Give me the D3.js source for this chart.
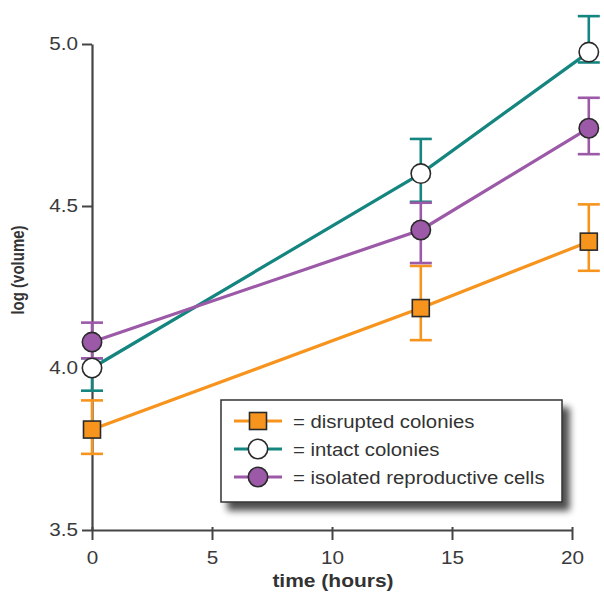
<!DOCTYPE html>
<html lang="en">
  <head>
    <meta charset="utf-8">
    <title>Colony growth</title>
    <script type="text/javascript" src="https://d3js.org/d3.v7.min.js"></script>
    <style>
      body { margin: 0; background: #fff; }
      text { font-family: "Liberation Sans", Arial, sans-serif; }
    </style>
  </head>
  <body>
    <svg class="chart"></svg>
  <script>
    // data
    const times = [0, 13.7, 20.7];
    const seriesNames = ["disrupted colonies", "intact colonies", "isolated reproductive cells"];
    const disrupted = [3.81, 4.185, 4.39];
    const disruptedLo = [3.735, 4.086, 4.30];
    const disruptedHi = [3.90, 4.315, 4.505];
    const intact = [4.00, 4.60, 4.975];
    const intactLo = [3.93, 4.513, 4.943];
    const intactHi = [4.03, 4.707, 5.086];
    const isolated = [4.08, 4.426, 4.74];
    const isolatedLo = [4.03, 4.324, 4.66];
    const isolatedHi = [4.14, 4.51, 4.834];
    const xTicks = [0, 5, 10, 15, 20];
    const yTicks = [3.5, 4.0, 4.5, 5.0];

    const width = 604, height = 595;
    const colors = ["#f7941d", "#14857f", "#9b59a8"];
    const shapes = ["square", "circle", "circle"];
    const fills = ["#f7941d", "#ffffff", "#9b59a8"];
    const sx = 1.15; // text in the figure is a little wide

    const series = [
      {vals: disrupted, lo: disruptedLo, hi: disruptedHi},
      {vals: intact, lo: intactLo, hi: intactHi},
      {vals: isolated, lo: isolatedLo, hi: isolatedHi}
    ];

    const svg = d3.select(".chart").attr("width", width).attr("height", height);

    const defs = svg.append("defs");
    const filt = defs.append("filter").attr("id", "shadow")
      .attr("x", "-10%").attr("y", "-20%").attr("width", "130%").attr("height", "160%");
    filt.append("feGaussianBlur").attr("in", "SourceAlpha").attr("stdDeviation", 3.5);
    filt.append("feOffset").attr("dx", 7).attr("dy", 8).attr("result", "ob");
    filt.append("feComponentTransfer").append("feFuncA").attr("type", "linear").attr("slope", 0.7);
    const merge = filt.append("feMerge");
    merge.append("feMergeNode");
    merge.append("feMergeNode").attr("in", "SourceGraphic");

    const x = d3.scaleLinear().domain([0, 20]).range([92, 572]);
    const y = d3.scaleLinear().domain([3.5, 5.0]).range([530, 44]);

    //axes
    const axisColor = "#444";
    const xAxis = svg.append("g")
      .attr("transform", "translate(0," + y(3.5) + ")")
      .call(d3.axisBottom(x).tickValues(xTicks).tickFormat(d3.format("d")).tickSize(10).tickPadding(11).tickSizeOuter(0));
    const yAxis = svg.append("g")
      .attr("transform", "translate(" + x(0) + ",0)")
      .call(d3.axisLeft(y).tickValues(yTicks).tickFormat(d3.format(".1f")).tickSize(10).tickPadding(4).tickSizeOuter(0));
    [xAxis, yAxis].forEach(function(g) {
      g.select(".domain").attr("stroke", axisColor).attr("stroke-width", 2.2);
      g.selectAll(".tick line").attr("stroke", axisColor).attr("stroke-width", 2);
      g.selectAll(".tick text").attr("fill", "#3a3a3a").style("font-size", "18px")
        .style("font-family", "'Liberation Sans', Arial, sans-serif")
        .attr("transform", "scale(" + sx + ",1)");
    });
    yAxis.selectAll(".tick text").attr("x", -14 / sx);
    // the 0 tick on x runs through the axis line
    xAxis.selectAll(".tick line").attr("y1", -3);

    svg.append("text")
      .attr("transform", "translate(" + 333 + ",587) scale(1.2,1)")
      .attr("text-anchor", "middle")
      .attr("font-weight", "bold").attr("font-size", 17.5).attr("fill", "#333")
      .text("time (hours)");
    svg.append("text")
      .attr("transform", "translate(24,270) rotate(-90) scale(1,1.25)")
      .attr("text-anchor", "middle")
      .attr("font-weight", "bold").attr("font-size", 15).attr("fill", "#333")
      .text("log (volume)");

    //error bars
    const capW = 11;
    series.forEach(function(s, si) {
      const g = svg.append("g").attr("stroke", colors[si]).attr("stroke-width", 2.6);
      times.forEach(function(t, i) {
        g.append("line").attr("x1", x(t)).attr("x2", x(t)).attr("y1", y(s.lo[i])).attr("y2", y(s.hi[i]));
        g.append("line").attr("x1", x(t) - capW).attr("x2", x(t) + capW).attr("y1", y(s.lo[i])).attr("y2", y(s.lo[i]));
        g.append("line").attr("x1", x(t) - capW).attr("x2", x(t) + capW).attr("y1", y(s.hi[i])).attr("y2", y(s.hi[i]));
      });
    });

    //lines
    const line = d3.line().x((d, i) => x(times[i])).y(d => y(d));
    series.forEach(function(s, si) {
      svg.append("path")
        .attr("d", line(s.vals))
        .attr("fill", "none")
        .attr("stroke", colors[si])
        .attr("stroke-width", 3.2);
    });

    function drawMarker(g, cx, cy, si) {
      if (shapes[si] == "square") {
        g.append("rect").attr("x", cx - 8.5).attr("y", cy - 8.5).attr("width", 17).attr("height", 17)
          .attr("fill", fills[si]).attr("stroke", "#2a2a2a").attr("stroke-width", 1.6);
      } else {
        g.append("circle").attr("cx", cx).attr("cy", cy).attr("r", 9.7)
          .attr("fill", fills[si]).attr("stroke", "#2a2a2a").attr("stroke-width", 1.6);
      }
    }

    //markers
    series.forEach(function(s, si) {
      const g = svg.append("g");
      s.vals.forEach(function(v, i) { drawMarker(g, x(times[i]), y(v), si); });
    });

    //legend
    const leg = svg.append("g");
    leg.append("rect")
      .attr("x", 221).attr("y", 400).attr("width", 341).attr("height", 102)
      .attr("fill", "#fff").attr("stroke", "#333").attr("stroke-width", 1.5)
      .attr("filter", "url(#shadow)");
    seriesNames.forEach(function(name, si) {
      const ry = 421 + si * 28;
      leg.append("line").attr("x1", 234).attr("x2", 282).attr("y1", ry).attr("y2", ry)
        .attr("stroke", colors[si]).attr("stroke-width", 3.2);
      drawMarker(leg, 258, ry, si);
      leg.append("text")
        .attr("transform", "translate(293," + (ry + 7) + ") scale(1.1,1)")
        .attr("font-size", 18.5).attr("fill", "#333")
        .text("= " + name);
    });
  </script>
  </body>
</html>
